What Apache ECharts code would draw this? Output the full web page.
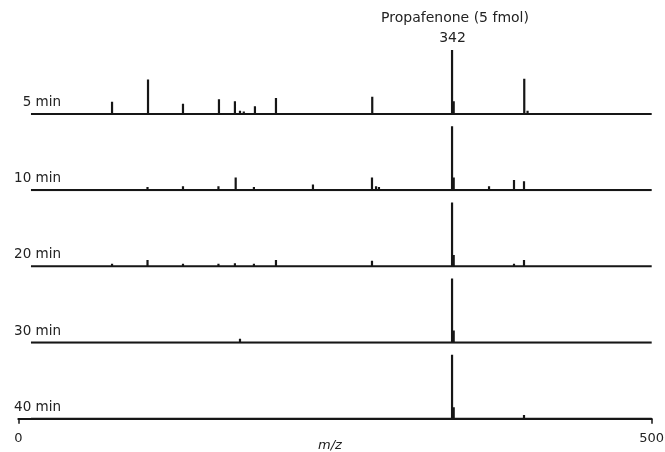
<!DOCTYPE html>
<html>
<head>
<meta charset="utf-8">
<script src="https://cdn.jsdelivr.net/npm/echarts@6/dist/echarts.min.js"></script>
<style>
  html, body { margin: 0; padding: 0; background: #fff; }
  #chart { width: 665px; height: 452px; }
</style>
</head>
<body>
<div id="chart"></div>
<script>
// 各时间点的质谱峰 [m/z, 相对强度]
const panelNames = ['5 min', '10 min', '20 min', '30 min', '40 min'];
const mzRange = [10, 500];
const xTicks = [0, 500];

const peaks5 = [
    [47, 0.02], [60, 0.025], [74, 0.19], [90, 0.025], [102.4, 0.54], [118, 0.02],
    [130, 0.16], [146, 0.03], [152, 0.025], [158.4, 0.23], [171, 0.2], [175, 0.05],
    [178, 0.04], [186.8, 0.12], [194, 0.025], [203.4, 0.25], [230, 0.02], [250, 0.02],
    [279.4, 0.27], [300, 0.02], [342.4, 1.0], [343.7, 0.2], [363, 0.02], [371, 0.03],
    [399.4, 0.55], [402, 0.05], [450, 0.02], [478, 0.025]
];
const peaks10 = [
    [50, 0.025], [62, 0.025], [74, 0.03], [90, 0.025], [102, 0.05], [116, 0.025],
    [130, 0.06], [145, 0.025], [158, 0.06], [171.6, 0.2], [186, 0.05], [200, 0.025],
    [215, 0.03], [232.6, 0.09], [255, 0.025], [279.2, 0.2], [282.4, 0.06], [284.7, 0.05],
    [300, 0.025], [312, 0.03], [342.4, 1.0], [343.7, 0.2], [371.6, 0.06], [391.3, 0.16],
    [394.5, 0.03], [399.2, 0.14], [430, 0.025], [460, 0.025], [475, 0.025]
];
const peaks20 = [
    [60, 0.025], [74, 0.04], [88, 0.02], [102, 0.1], [116, 0.02], [130, 0.04],
    [145, 0.025], [158, 0.04], [171, 0.05], [178, 0.025], [186, 0.04], [203.4, 0.1],
    [240, 0.02], [279.2, 0.09], [300, 0.02], [342.4, 1.0], [343.7, 0.18],
    [371.6, 0.03], [391.3, 0.04], [399.2, 0.1], [409.5, 0.03], [440, 0.02]
];
const peaks30 = [
    [62, 0.02], [90, 0.02], [120, 0.02], [150, 0.02], [175, 0.06], [200, 0.02],
    [230, 0.02], [279.2, 0.03], [310, 0.02], [342.4, 1.0], [343.7, 0.19],
    [370.8, 0.025], [420, 0.02], [460, 0.02]
];
const peaks40 = [
    [60, 0.025], [75, 0.025], [90, 0.02], [130, 0.02], [175, 0.02], [240, 0.02],
    [277.6, 0.025], [342.4, 1.0], [343.7, 0.18], [366, 0.02], [399.2, 0.06],
    [440, 0.02], [470, 0.02]
];
const allPeaks = [peaks5, peaks10, peaks20, peaks30, peaks40];

// 把峰列表转成棒状谱的折线数据
function stickData(list) {
    const out = [[mzRange[0], 0]];
    list.forEach(function (p) {
        out.push([p[0], 0], [p[0], p[1]], [p[0], 0]);
    });
    out.push([mzRange[1], 0]);
    return out;
}

const chart = echarts.init(document.getElementById('chart'));
const font = 'DejaVu Sans';
const ink = '#161616';
const grids = [], xAxes = [], yAxes = [], series = [], texts = [];

panelNames.forEach(function (name, i) {
    const top = 50 + 76.2 * i;
    const last = i === panelNames.length - 1;
    grids.push({ left: 18.3, right: 13.3, top: top, height: 64, outerBoundsMode: 'none', containLabel: false });
    xAxes.push({
        gridIndex: i,
        type: 'value',
        min: xTicks[0],
        max: xTicks[1],
        interval: 500,
        show: last,
        axisLine: { show: last, lineStyle: { color: ink, width: 2 } },
        axisTick: { show: last, length: 5, lineStyle: { color: ink, width: 1.5 } },
        axisLabel: { show: last, margin: 13, color: '#222', fontSize: 13, fontFamily: font },
        splitLine: { show: false }
    });
    yAxes.push({ gridIndex: i, type: 'value', min: 0, max: 1, show: false });
    series.push({
        type: 'line',
        xAxisIndex: i,
        yAxisIndex: i,
        data: stickData(allPeaks[i]),
        symbol: 'none',
        animation: false,
        lineStyle: { color: ink, width: 2.2, join: 'miter' }
    });
    texts.push({
        type: 'text',
        x: 61,
        y: top + 64 - 11.5,
        style: {
            text: name, fill: '#222', font: '13.5px ' + font,
            textAlign: 'right', textVerticalAlign: 'middle'
        }
    });
});

texts.push(
    {
        type: 'text', x: 455, y: 18.5,
        style: { text: 'Propafenone (5 fmol)', fill: '#222', font: '14px ' + font, textAlign: 'center', textVerticalAlign: 'middle' }
    },
    {
        type: 'text', x: 452.5, y: 38,
        style: { text: '342', fill: '#222', font: '14px ' + font, textAlign: 'center', textVerticalAlign: 'middle' }
    },
    {
        type: 'text', x: 330, y: 446,
        style: { text: 'm/z', fill: '#222', font: 'italic 13px ' + font, textAlign: 'center', textVerticalAlign: 'middle' }
    }
);

chart.setOption({
    animation: false,
    grid: grids,
    xAxis: xAxes,
    yAxis: yAxes,
    series: series,
    graphic: texts
});
</script>
</body>
</html>
